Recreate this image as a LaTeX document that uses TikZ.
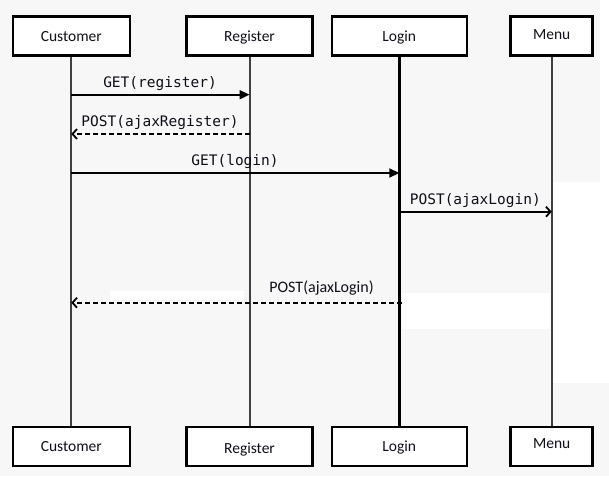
\documentclass[tikz,border=0pt]{standalone}
\usepackage{fontspec}
\setmainfont{Carlito}
\newfontfamily\monof{DejaVu Sans Mono}
\usetikzlibrary{arrows.meta}
\definecolor{bgc}{RGB}{247,247,247}
\definecolor{txt}{RGB}{15,15,25}
\begin{document}
\begin{tikzpicture}[x=1pt,y=-1pt,
  actor/.style={draw,line width=2.5pt,fill=white,minimum height=39pt,inner sep=0pt,
    font=\fontsize{15.5}{18}\selectfont,text=txt,text height=10pt,text depth=0pt},
  life/.style={line width=2pt,black!75},
  thicklife/.style={line width=3pt,black},
  msg/.style={line width=1.8pt},
  ret/.style={line width=1.8pt,dash pattern=on 5pt off 3pt},
  mlabel/.style={font=\monof\fontsize{14.5}{17}\selectfont,text=txt,anchor=base,inner sep=0pt},
  slabel/.style={font=\fontsize{16}{19}\selectfont,text=txt,anchor=base,inner sep=0pt},
  fillhead/.style={-{Triangle[length=10pt,width=9pt]}},
  openhead/.style={-{Straight Barb[length=4.5pt,width=10pt]}}
]
\fill[bgc] (0,0) rectangle (609,476);
\useasboundingbox (0,0) rectangle (609,476);
% lighter patches of the background
\fill[white] (110,291) rectangle (244,300);
\fill[white] (402,293) rectangle (550,329);
\fill[white] (553,182) rectangle (609,383);
\fill[white] (600,0) rectangle (609,183);

% actors (top)
\node[actor,minimum width=117pt] (Ct) at (71.3,36.2) {Customer};
\node[actor,minimum width=126pt] (Rt) at (249.5,36.2) {Register};
\node[actor,minimum width=135pt] (Lt) at (399.3,36.2) {Login};
\node[actor,minimum width=82pt]  (Mt) at (551.7,36.2) {\raisebox{2pt}{Menu}};
% actors (bottom)
\node[actor,minimum width=117pt] (Cb) at (71.3,446.3) {\raisebox{-0.5pt}{Customer}};
\node[actor,minimum width=126pt] (Rb) at (249.5,446.3) {\raisebox{-2.5pt}{Register}};
\node[actor,minimum width=135pt] (Lb) at (399.3,446.3) {Login};
\node[actor,minimum width=82pt]  (Mb) at (551.7,446.3) {\raisebox{2.5pt}{Menu}};

% lifelines
\draw[life] (Ct.south) -- (Cb.north);
\draw[life] (Rt.south) -- (Rb.north);
\draw[thicklife] (Lt.south) -- (Lb.north);
\draw[life] (Mt.south) -- (Mb.north);

% message levels
\coordinate (y1) at (0,94.7);
\coordinate (y2) at (0,134);
\coordinate (y3) at (0,173);
\coordinate (y4) at (0,211.7);
\coordinate (y5) at (0,302.7);

% messages
\draw[msg,fillhead] (Ct.south |- y1) -- (Rt.south |- y1);
\draw[ret,openhead] (Rt.south |- y2) -- (Ct.south |- y2);
\draw[msg,fillhead] (Ct.south |- y3) -- (Lt.south |- y3);
\draw[msg,openhead] ([xshift=1.5pt]Lt.south |- y4) -- (Mt.south |- y4);
\draw[ret,openhead] ([xshift=3pt]Lt.south |- y5) -- (Ct.south |- y5);

% labels
\node[mlabel] (l1) at (160,87.3) {GET(register)};
\node[mlabel] (l2) at (160,126.7) {POST(ajaxRegister)};
\node[mlabel] (l3) at (235,165.7) {GET(login)};
\node[mlabel] (l4) at (475.3,204.3) {POST(ajaxLogin)};
\node[slabel] (l5) at (321.5,292.7) {POST(ajaxLogin)};
\end{tikzpicture}
\end{document}
